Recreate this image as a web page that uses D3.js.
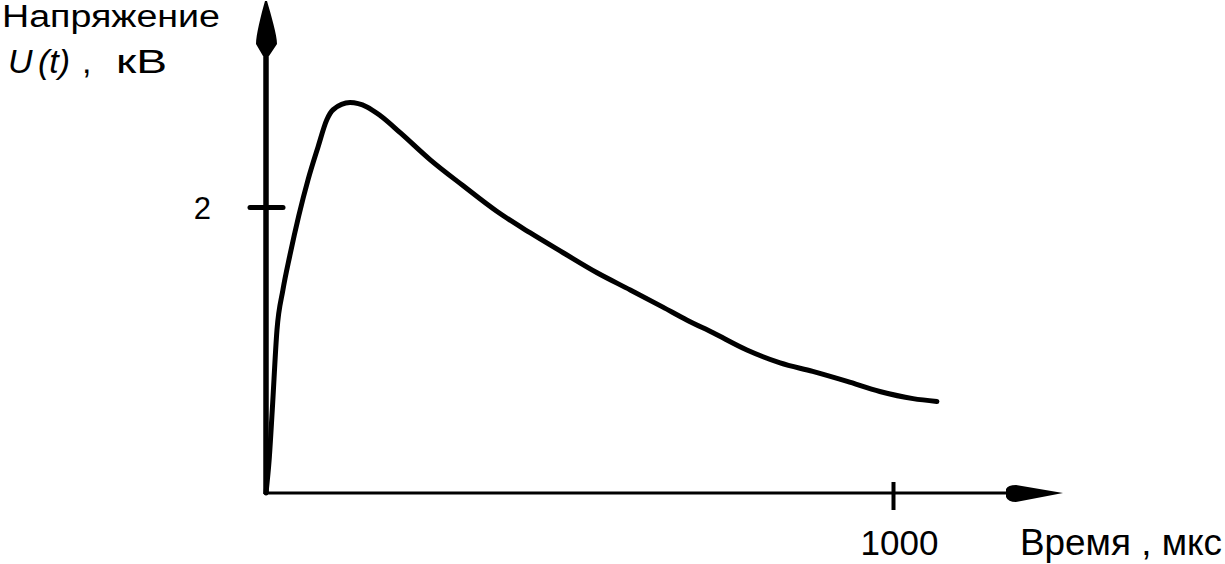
<!DOCTYPE html>
<html>
<head>
<meta charset="utf-8">
<script src="https://cdn.jsdelivr.net/npm/d3@7"></script>
<style>
  body { margin: 0; background: #fff; }
  svg { display: block; }
  text { font-family: "Liberation Sans", Arial, sans-serif; fill: #000; }
</style>
</head>
<body>
<div id="chart"></div>
<script>
// time, microseconds
var times = [0, 5, 10, 17.5, 27, 38, 67, 83, 97, 107, 134, 161, 182, 214, 262, 314, 368, 421,
  474, 528, 581, 633, 671, 713, 767, 820, 872, 927, 979, 1032, 1070];
// voltage, kV
var volts = [0, 0.23, 0.58, 1.14, 1.42, 1.66, 2.19, 2.42, 2.61, 2.68, 2.73, 2.70, 2.64, 2.52, 2.33,
  2.15, 1.97, 1.82, 1.68, 1.54, 1.42, 1.30, 1.21, 1.12, 1.00, 0.91, 0.85, 0.78, 0.71, 0.66, 0.64];
var xTicks = [1000];
var yTicks = [2];

var W = 1225, H = 564;
var data = times.map(function(t, i) { return { t: t, u: volts[i] }; });

var x = d3.scaleLinear().domain([0, 1000]).range([266, 893]);
var y = d3.scaleLinear().domain([0, 2]).range([493, 207]);

var svg = d3.select('#chart')
  .append('svg')
  .attr('width', W)
  .attr('height', H);

var x0 = x(0), y0 = y(0);

// x axis line + arrow
svg.append('line')
  .attr('x1', x0).attr('y1', y0)
  .attr('x2', 1012).attr('y2', y0)
  .attr('stroke', '#000').attr('stroke-width', 3);
svg.append('path')
  .attr('d', 'M1006,' + (y0 - 4) + ' Q1008,' + (y0 - 8) + ' 1016,' + (y0 - 8) +
    ' L1063,' + y0 + ' L1016,' + (y0 + 9) + ' Q1008,' + (y0 + 9) + ' 1006,' + (y0 + 4) + ' Z')
  .attr('fill', '#000');

// y axis line + arrow
svg.append('line')
  .attr('x1', x0).attr('y1', y0 + 1)
  .attr('x2', x0).attr('y2', 50)
  .attr('stroke', '#000').attr('stroke-width', 5.5);
svg.append('path')
  .attr('d', 'M' + (x0 - 1) + ',1 C' + (x0 - 5) + ',15 ' + (x0 - 10) + ',35 ' + (x0 - 10) + ',44' +
    ' L' + (x0 - 3) + ',56 L' + (x0 + 3) + ',56 L' + (x0 + 11) + ',44' +
    ' C' + (x0 + 11) + ',35 ' + (x0 + 5) + ',15 ' + (x0 + 1) + ',1 Z')
  .attr('fill', '#000');

// x axis ticks
var xAxis = d3.axisBottom(x).tickValues(xTicks).tickSize(0).tickFormat(d3.format('d'));
var gx = svg.append('g')
  .attr('transform', 'translate(0,' + y0 + ')')
  .call(xAxis);
gx.select('.domain').remove();
gx.selectAll('.tick line')
  .attr('y1', -11).attr('y2', 17)
  .attr('stroke', '#000').attr('stroke-width', 4);
gx.selectAll('.tick text')
  .attr('y', 62).attr('dy', 0).attr('dx', 6)
  .style('font-size', '35px')
  .attr('fill', '#000');

// y axis ticks
var yAxis = d3.axisLeft(y).tickValues(yTicks).tickSize(0).tickFormat(d3.format('d'));
var gy = svg.append('g')
  .attr('transform', 'translate(' + x0 + ',0)')
  .call(yAxis);
gy.select('.domain').remove();
gy.selectAll('.tick line')
  .attr('x1', -16).attr('x2', 17)
  .attr('stroke', '#000').attr('stroke-width', 5)
  .attr('stroke-linecap', 'round');
gy.selectAll('.tick text')
  .attr('x', -55).attr('dy', '0.36em')
  .style('font-size', '31px')
  .attr('text-anchor', 'end')
  .attr('fill', '#000');

// the voltage curve
var line = d3.line()
  .x(function(d) { return x(d.t); })
  .y(function(d) { return y(d.u); })
  .curve(d3.curveMonotoneX);
svg.append('path')
  .datum(data)
  .attr('d', line)
  .attr('fill', 'none')
  .attr('stroke', '#000')
  .attr('stroke-width', 5)
  .attr('stroke-linecap', 'round')
  .attr('stroke-linejoin', 'round');

// axis titles
svg.append('text')
  .attr('x', 2).attr('y', 27)
  .attr('textLength', 218).attr('lengthAdjust', 'spacingAndGlyphs')
  .style('font-size', '31px')
  .text('Напряжение');

var uLab = svg.append('text')
  .attr('y', 73)
  .style('font-size', '34px');
uLab.append('tspan').attr('x', 8).style('font-style', 'italic').text('U');
uLab.append('tspan').attr('x', 38).style('font-style', 'italic').text('(t)');
uLab.append('tspan').attr('x', 82).text(',');
uLab.append('tspan').attr('x', 116)
  .attr('textLength', 51).attr('lengthAdjust', 'spacingAndGlyphs').text('кВ');

svg.append('text')
  .attr('x', 1020).attr('y', 555)
  .attr('textLength', 202).attr('lengthAdjust', 'spacingAndGlyphs')
  .style('font-size', '36px')
  .text('Время , мкс');
</script>
</body>
</html>
